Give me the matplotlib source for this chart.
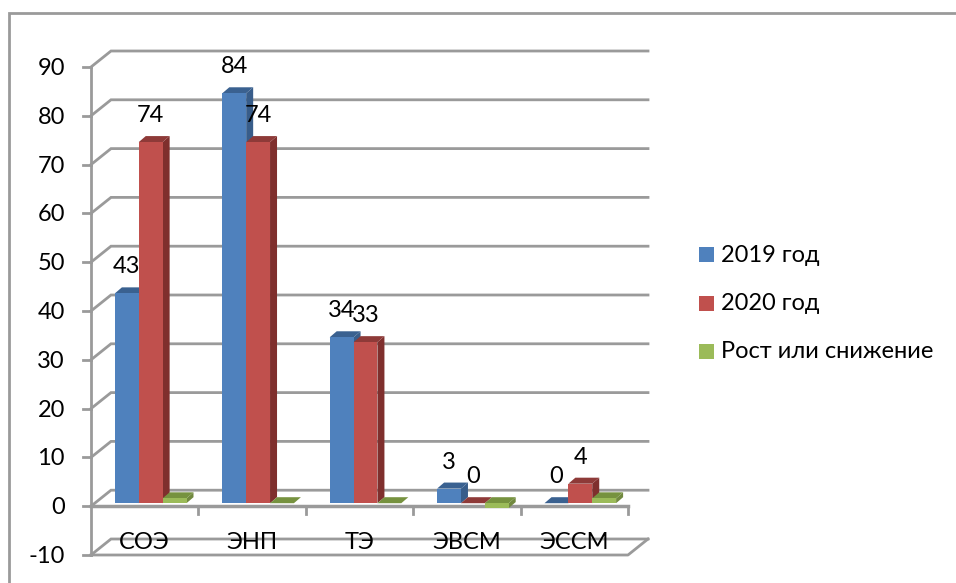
import matplotlib
matplotlib.use("Agg")
import matplotlib.pyplot as plt
from matplotlib.lines import Line2D
from matplotlib.patches import Rectangle

W, H = 956, 583

categories = ['СОЭ', 'ЭНП', 'ТЭ', 'ЭВСМ', 'ЭССМ']
values_2019 = [43, 84, 34, 3, 0]
values_2020 = [74, 74, 33, 0, 4]
values_change = [1, 0, 0, -1, 1]
y_ticks = [-10, 0, 10, 20, 30, 40, 50, 60, 70, 80, 90]

series = [
    ('2019 год', values_2019, '#4F81BD', '#385D8A', '#3A6190'),
    ('2020 год', values_2020, '#C0504D', '#7F2F2D', '#8E3A38'),
    ('Рост или снижение', values_change, '#9BBB59', '#71893F', '#76923F'),
]

plt.rcParams['font.family'] = ['Lato', 'DejaVu Sans']
plt.rcParams['font.size'] = 17

fig = plt.figure(figsize=(W / 100, H / 100), dpi=100)

# front plane of the fake 3d box, in pixels: x 91..628, y 555..67
ax = fig.add_axes([91 / W, 1 - 555 / H, 537 / W, 488 / H])
ax.set_xlim(0, 5)
ax.set_ylim(-10, 90)
ax.axis('off')

px_x = 5 / 537
px_y = 100 / 488
grid_color = '#9A9A9A'

# back wall and side wall lines
wall_dx, wall_dy = 20 * px_x, 16 * px_y
for t in y_ticks:
    ax.plot([0, wall_dx, 5 + wall_dx], [t, t + wall_dy, t + wall_dy],
            color=grid_color, lw=2, clip_on=False, zorder=1, solid_joinstyle='miter')
    ax.plot([-8 * px_x, 0], [t, t], color=grid_color, lw=2, clip_on=False, zorder=1)
    ax.text(-26 * px_x, t - 1.5 * px_y, str(t), ha='right', va='center', zorder=7)

# floor and axes
ax.plot([0, 5, 5 + wall_dx], [-10, -10, -10 + wall_dy], color=grid_color, lw=2, clip_on=False, zorder=1)
ax.plot([0, 0], [-10, 90], color=grid_color, lw=2, clip_on=False, zorder=1)
ax.plot([0, 5], [0, 0], color=grid_color, lw=2.5, clip_on=False, zorder=2)
for i in range(1, 6):
    ax.plot([i, i], [0, -8 * px_y], color=grid_color, lw=2, clip_on=False, zorder=2)

for i, c in enumerate(categories):
    ax.text(i + 0.5, -7.4, c, ha='center', va='center', zorder=7)

# bars
width = 1 / 4.5
off_x, off_y = 6 * px_x, 3 * px_y
depth_x, depth_y = 7 * px_x, 6 * px_y
for k, (name, vals, front, side, top) in enumerate(series):
    for i, v in enumerate(vals):
        x0 = i + 1 / 6 + k * width + off_x
        x1 = x0 + width
        y0 = off_y + min(v, 0)
        y1 = off_y + max(v, 0)
        z = 3 + k
        ax.fill([x1, x1 + depth_x, x1 + depth_x, x1],
                [y0, y0 + depth_y, y1 + depth_y, y1], color=side, lw=0, clip_on=False, zorder=z)
        ax.fill([x0, x0 + depth_x, x1 + depth_x, x1],
                [y1, y1 + depth_y, y1 + depth_y, y1], color=top, lw=0, clip_on=False, zorder=z)
        ax.bar(x0, y1 - y0, width, bottom=y0, align='edge', color=front, lw=0, clip_on=False, zorder=z)
        if k < 2:
            ax.annotate(str(v), (x0 + width / 2, y1), xytext=(0, 19), textcoords='offset points',
                        ha='center', va='center', zorder=7, annotation_clip=False)

# legend
leg_y = [254, 303, 351]
for (name, vals, front, side, top), y in zip(series, leg_y):
    fig.add_artist(Rectangle((699 / W, 1 - (y + 7.5) / H), 15 / W, 15 / H, color=front, lw=0,
                             transform=fig.transFigure))
    fig.text(721 / W, 1 - (y + 1) / H, name, ha='left', va='center')

# chart frame, only top and left edges are inside the crop
fig.add_artist(Line2D([8.5 / W, 8.5 / W, 1], [0, 1 - 13 / H, 1 - 13 / H], color=grid_color, lw=2,
                      solid_joinstyle='miter', transform=fig.transFigure))

fig.savefig('out.png', dpi=100)
